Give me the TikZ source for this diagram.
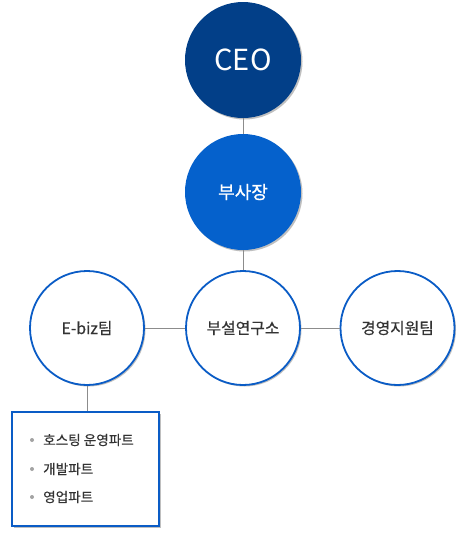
\documentclass[tikz,border=0pt]{standalone}
\usepackage{fontspec}
\setmainfont{Noto Sans CJK KR}
\newfontfamily\medfont[FakeBold=0.4]{Noto Sans CJK KR}
\newfontfamily\semifont[FakeBold=0.8]{Noto Sans CJK KR}
\usetikzlibrary{shadows}
\definecolor{navy}{HTML}{023F88}
\definecolor{midblue}{HTML}{0561CC}
\definecolor{edgeblue}{HTML}{0A5CC6}
\definecolor{txt}{HTML}{333333}
\definecolor{lin}{HTML}{8C8C8C}
\begin{document}
\begin{tikzpicture}[x=1pt,y=-1pt,
  circ/.style={circle,minimum size=114pt,inner sep=0pt,draw=edgeblue,line width=1.8pt,fill=white,
    text=txt,font=\medfont\fontsize{15.8}{17}\selectfont,
    drop shadow={shadow xshift=1.5pt,shadow yshift=-1.5pt,opacity=0.25,fill=black}},
  topcirc/.style={circle,minimum size=116pt,inner sep=0pt,text=white,
    drop shadow={shadow xshift=1.5pt,shadow yshift=-1.5pt,opacity=0.25,fill=black}},
  conn/.style={draw=lin,line width=0.8pt},
  item/.style={anchor=west,inner sep=0pt,text=txt,font=\medfont\fontsize{13.6}{15}\selectfont}]
\useasboundingbox (0,0) rectangle (469,539);
\node[topcirc,fill=navy,font=\fontsize{29}{32}\selectfont] (ceo) at (243,60) {CEO};
\node[topcirc,fill=midblue,font=\semifont\fontsize{18}{20}\selectfont] (vp) at (243,192) {부사장};
\node[circ] (ebiz) at (87,328) {E-biz팀};
\node[circ] (lab) at (243,328) {부설연구소};
\node[circ] (mgmt) at (397.5,328) {경영지원팀};
\node[draw=edgeblue,line width=2pt,fill=white,minimum width=147pt,minimum height=114pt,inner sep=0pt,
  drop shadow={shadow xshift=2pt,shadow yshift=-2pt,opacity=0.25,fill=black}] (box) at (85,468.5) {};
\draw[conn] (ceo) -- (vp);
\draw[conn] (vp) -- (lab);
\draw[conn] (ebiz) -- (lab);
\draw[conn] (lab) -- (mgmt);
\draw[conn] (ebiz.south) -- (ebiz.south |- box.north);
\fill[lin!80] (32,440) circle (2pt);
\fill[lin!80] (32,469) circle (2pt);
\fill[lin!80] (32,497) circle (2pt);
\node[item] (i1) at (43,440) {호스팅 운영파트};
\node[item] (i2) at (43,469) {개발파트};
\node[item] (i3) at (43,497) {영업파트};
\end{tikzpicture}
\end{document}
